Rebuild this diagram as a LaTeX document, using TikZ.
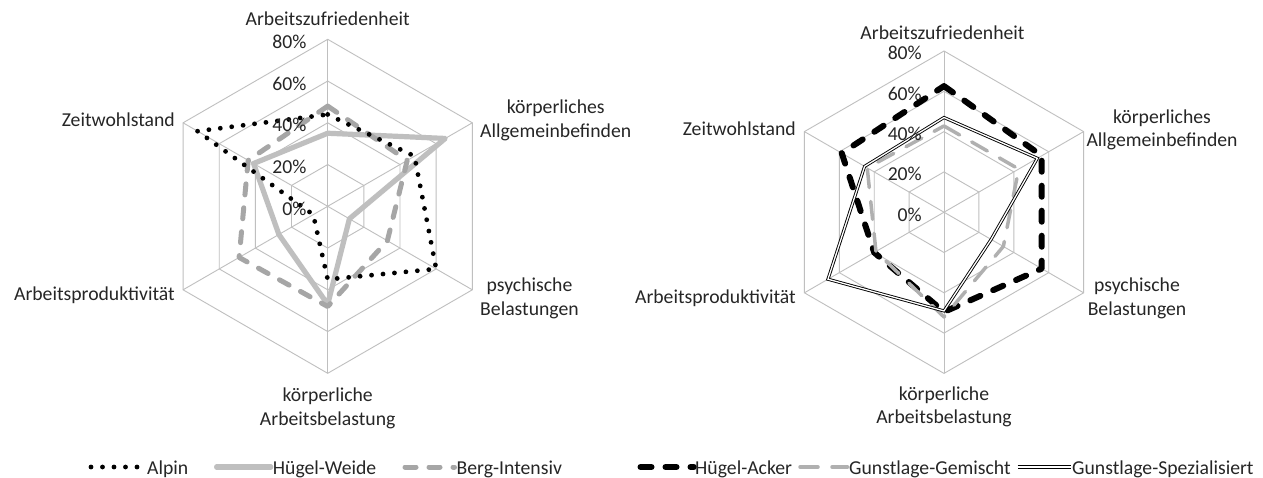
\documentclass[tikz,border=0pt]{standalone}
\usepackage{fontspec}
\setmainfont{Carlito}
\definecolor{gridgray}{RGB}{191,191,191}
\definecolor{lightser}{RGB}{191,191,191}
\definecolor{midser}{RGB}{166,166,166}
\definecolor{mixser}{RGB}{176,176,176}
\definecolor{txt}{RGB}{38,38,38}
\tikzset{
  grid/.style={draw=gridgray, line width=0.9pt},
  lbl/.style={font=\fontsize{19.7}{23.5}\selectfont, text=txt, inner sep=0pt, align=center},
  ticklbl/.style={lbl, anchor=east},
  alpin/.style={black, line width=4.8pt, line cap=round, dash pattern=on 0pt off 11.5pt},
  weide/.style={lightser, line width=5.2pt, line cap=round, line join=round},
  berg/.style={midser, line width=5pt, line cap=round, line join=round, dash pattern=on 11pt off 13pt},
  acker/.style={black, line width=6pt, line cap=round, line join=round, dash pattern=on 11pt off 14pt},
  gemischt/.style={mixser, line width=3.5pt, line cap=round, line join=round, dash pattern=on 18pt off 14pt},
  spez/.style={black, line width=0.9pt, double=white, double distance=1.3pt, line join=miter},
}
% hexagonal grid: four rings plus six spokes, #1 = radius of one ring step
\newcommand\radargrid[1]{%
  \foreach \r in {1,2,3,4}{%
    \draw[grid] (90:\r*#1) -- (30:\r*#1) -- (-30:\r*#1) -- (-90:\r*#1)
      -- (210:\r*#1) -- (150:\r*#1) -- cycle;}
  \foreach \a in {90,30,-30,-90,210,150}{\draw[grid] (0,0) -- (\a:4*#1);}
}
% one series: style, name prefix, six values in percent (clockwise from top)
\newcommand\radarline[8]{%
  \path (90:#3*\pxper) coordinate (#2-1)
        (30:#4*\pxper) coordinate (#2-2)
        (-30:#5*\pxper) coordinate (#2-3)
        (-90:#6*\pxper) coordinate (#2-4)
        (210:#7*\pxper) coordinate (#2-5)
        (150:#8*\pxper) coordinate (#2-6);
  \draw[#1] (#2-1) -- (#2-2) -- (#2-3) -- (#2-4) -- (#2-5) -- (#2-6) -- cycle;
}
\begin{document}
\begin{tikzpicture}[x=1pt,y=-1pt]
\fill[white] (0,0) rectangle (1263,477);
\useasboundingbox (0,0) rectangle (1263,477);

% ---------- left chart ----------
\begin{scope}[shift={(327.7,206.3)}]
\begin{scope}[y=1pt]
  \def\pxper{2.0875}
  \radargrid{41.75}
  \radarline{weide}{hw}{35}{65}{12}{47}{27}{41}
  \radarline{berg}{bi}{48}{44}{33}{48}{49}{44}
  \radarline{alpin}{al}{44}{48}{60}{35}{8}{72}
\end{scope}
\end{scope}
\node[ticklbl] (lt80) at (306.7,41.8) {80\%};
\node[ticklbl] (lt60) at (306.7,83.6) {60\%};
\node[ticklbl] (lt40) at (306.7,125.3) {40\%};
\node[ticklbl] (lt20) at (306.7,167.1) {20\%};
\node[ticklbl] (lt0)  at (306.7,208.8) {0\%};
\node[lbl] (L-top) at (327.7,19) {Arbeitszufriedenheit};
\node[lbl] (L-allg) at (555.7,120.3) {körperliches\\Allgemeinbefinden};
\node[lbl] (L-psy) at (529.5,298.3) {psychische\\Belastungen};
\node[lbl] (L-bot) at (327.7,408.3) {körperliche\\Arbeitsbelastung};
\node[lbl, anchor=east] (L-ap) at (175,294.8) {Arbeitsproduktivität};
\node[lbl, anchor=east] (L-zw) at (175,120) {Zeitwohlstand};

% ---------- right chart ----------
\begin{scope}[shift={(944,212.2)}]
\begin{scope}[y=1pt]
  \def\pxper{2.015}
  \radargrid{40.3}
  \radarline{acker}{ha}{62.6}{56}{56}{49.5}{40}{58.6}
  \radarline{gemischt}{gg}{42.8}{42.8}{34}{52}{39}{44}
  \radarline{spez}{gs}{47}{53.5}{27}{49}{66.5}{45.5}
\end{scope}
\end{scope}
\node[ticklbl] (rt80) at (922,53.3) {80\%};
\node[ticklbl] (rt60) at (922,93.6) {60\%};
\node[ticklbl] (rt40) at (922,133.9) {40\%};
\node[ticklbl] (rt20) at (922,174.2) {20\%};
\node[ticklbl] (rt0)  at (922,214.5) {0\%};
\node[lbl] (R-top) at (942.5,32.5) {Arbeitszufriedenheit};
\node[lbl] (R-allg) at (1162,130) {körperliches\\Allgemeinbefinden};
\node[lbl] (R-psy) at (1137,298.3) {psychische\\Belastungen};
\node[lbl] (R-bot) at (944,406.6) {körperliche\\Arbeitsbelastung};
\node[lbl, anchor=east] (R-ap) at (796,297.8) {Arbeitsproduktivität};
\node[lbl, anchor=east] (R-zw) at (796,128.8) {Zeitwohlstand};

% ---------- legends ----------
\coordinate (k1a) at (91,467);     \coordinate (k1b) at (138,467);
\coordinate (k2a) at (216.6,467);  \coordinate (k2b) at (270.8,467);
\coordinate (k3a) at (405,467);    \coordinate (k3b) at (454.5,467);
\coordinate (k4a) at (640.5,467);  \coordinate (k4b) at (693.8,467);
\coordinate (k5a) at (800,467);    \coordinate (k5b) at (847.5,467);
\coordinate (k6a) at (1017.5,467); \coordinate (k6b) at (1070.8,467);
\draw[alpin] (k1a) -- (k1b);
\draw[weide] (k2a) -- (k2b);
\draw[berg] (k3a) -- (k3b);
\draw[acker] (k4a) -- (k4b);
\draw[gemischt] (k5a) -- (k5b);
\draw[spez] (k6a) -- (k6b);
\node[lbl, anchor=base west] (g1) at (147,474) {Alpin};
\node[lbl, anchor=base west] (g2) at (272.7,474) {Hügel-Weide};
\node[lbl, anchor=base west] (g3) at (456.5,474) {Berg-Intensiv};
\node[lbl, anchor=base west] (g4) at (695,474) {Hügel-Acker};
\node[lbl, anchor=base west] (g5) at (849,474) {Gunstlage-Gemischt};
\node[lbl, anchor=base west] (g6) at (1072,474) {Gunstlage-Spezialisiert};
\end{tikzpicture}
\end{document}
